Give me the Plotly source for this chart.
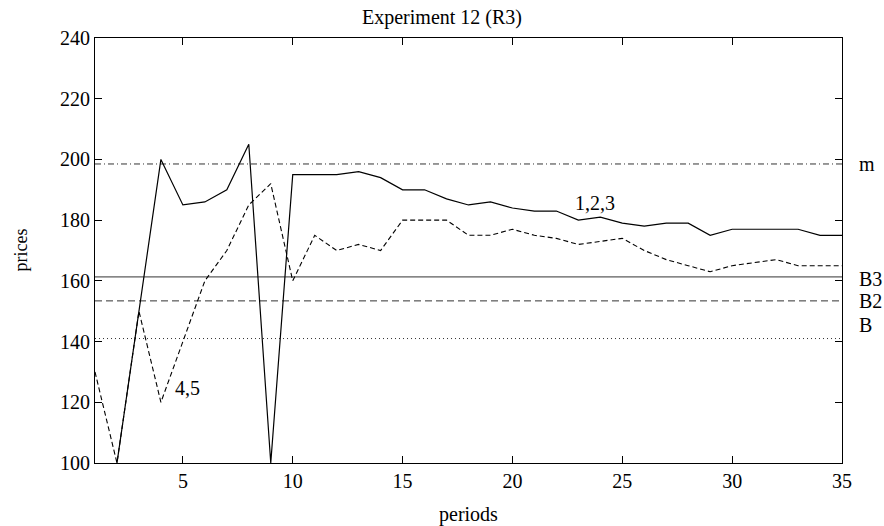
import plotly.graph_objects as go

periods = list(range(1, 36))
prices_123 = [None, 100, 150, 200, 185, 186, 190, 205, 100, 195, 195, 195, 196, 194, 190,
              190, 187, 185, 186, 184, 183, 183, 180, 181, 179, 178, 179, 179, 175, 177,
              177, 177, 177, 175, 175]
prices_45 = [130, 100, 150, 120, 140, 160, 170, 185, 192, 160, 175, 170, 172, 170, 180,
             180, 180, 175, 175, 177, 175, 174, 172, 173, 174, 170, 167, 165, 163, 165,
             166, 167, 165, 165, 165]

ref_names = ["m", "B3", "B2", "B"]
ref_values = [198.5, 161.3, 153.4, 141.0]
ref_label_y = [198.6, 160.6, 153.4, 145.5]
ref_dash = ["6px,3px,1px,3px", "solid", "7px,4px", "1px,3px"]

x_ticks = [5, 10, 15, 20, 25, 30, 35]
y_ticks = [100, 120, 140, 160, 180, 200, 220, 240]

FONT = "Liberation Serif"
FS = 20
fig = go.Figure()

for name, val, dash in zip(ref_names, ref_values, ref_dash):
    fig.add_trace(go.Scatter(x=[periods[0], periods[-1]], y=[val, val], mode="lines",
                             line=dict(color="#333333", width=1, dash=dash),
                             hoverinfo="skip", showlegend=False))

fig.add_trace(go.Scatter(x=periods, y=prices_123, mode="lines", name="1,2,3",
                         line=dict(color="black", width=1.2), showlegend=False))
fig.add_trace(go.Scatter(x=periods, y=prices_45, mode="lines", name="4,5",
                         line=dict(color="black", width=1.1, dash="5px,3px"), showlegend=False))

annotations = []
for name, ly in zip(ref_names, ref_label_y):
    annotations.append(dict(x=1.0201, xref="paper", y=ly, yref="y", text=name,
                            showarrow=False, xanchor="left", yanchor="middle",
                            font=dict(family=FONT, size=FS, color="black")))
annotations.append(dict(x=23.76, y=185.6, xref="x", yref="y", text="1,2,3", showarrow=False,
                        xanchor="center", yanchor="middle",
                        font=dict(family=FONT, size=FS, color="black")))
annotations.append(dict(x=5.19, y=124.7, xref="x", yref="y", text="4,5", showarrow=False,
                        xanchor="center", yanchor="middle",
                        font=dict(family=FONT, size=FS, color="black")))
annotations.append(dict(x=-0.1004, y=0.5, xref="paper", yref="paper", text="prices",
                        textangle=-90, showarrow=False, xanchor="center", yanchor="middle",
                        font=dict(family=FONT, size=18, color="black")))
annotations.append(dict(x=0.5, y=-0.12, xref="paper", yref="paper", text="periods",
                        showarrow=False, xanchor="center", yanchor="middle",
                        font=dict(family=FONT, size=FS, color="black")))

fig.update_layout(
    width=884, height=526,
    margin=dict(l=95, r=42, t=38, b=63),
    paper_bgcolor="white", plot_bgcolor="white",
    title=dict(text="Experiment 12 (R3)", x=0.5, xanchor="center",
               y=1 - 17 / 526, yanchor="middle", yref="container",
               font=dict(family=FONT, size=FS, color="black")),
    annotations=annotations,
    xaxis=dict(range=[1, 35], tickvals=x_ticks, ticks="inside", ticklen=7,
               showline=True, linecolor="black", linewidth=1, mirror="ticks",
               showgrid=False, zeroline=False, tickcolor="black",
               tickfont=dict(family=FONT, size=FS, color="black")),
    yaxis=dict(range=[100, 240], tickvals=y_ticks, ticks="inside", ticklen=7,
               showline=True, linecolor="black", linewidth=1, mirror="ticks",
               showgrid=False, zeroline=False, tickcolor="black",
               tickfont=dict(family=FONT, size=FS, color="black")),
)

fig.write_html("out.html", config={"displayModeBar": False},
               post_script="document.body.style.margin='0';")
